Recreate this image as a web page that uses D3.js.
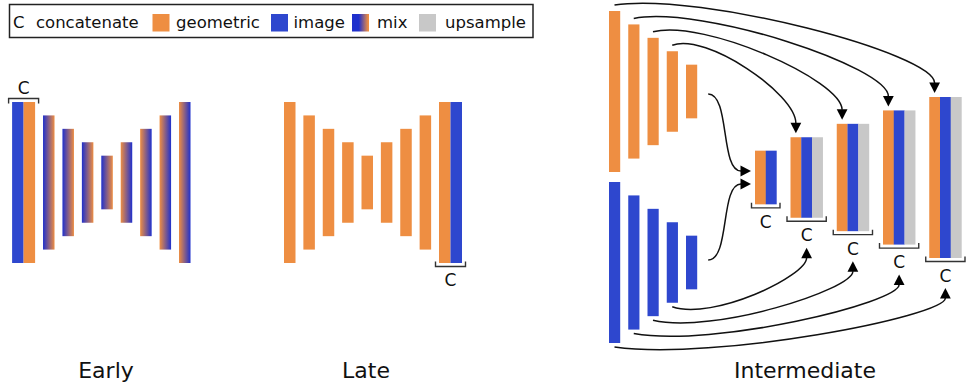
<!DOCTYPE html>
<html><head><meta charset="utf-8">
<script src="https://cdn.jsdelivr.net/npm/d3@7"></script>
<style>html,body{margin:0;padding:0;background:#fff;} svg{display:block;font-family:"DejaVu Sans",Verdana,sans-serif;}</style>
</head><body><svg id="c" width="968" height="385"></svg>
<script>
// ---------------- data ----------------
const legendKeys = ["C", "geo", "img", "mix", "up"];
const legendLabels = ["concatenate", "geometric", "image", "mix", "upsample"];
const panelTitles = ["Early", "Late", "Intermediate"];
const concatLabel = "C";
const earlySizes = [6, 5, 4, 3, 2, 3, 4, 5, 6];
const earlyFills = ["concat", "mixBO", "mixBO", "mixBO", "mixBO", "mixOB", "mixOB", "mixOB", "mixOB"];
const lateSizes = [6, 5, 4, 3, 2, 3, 4, 5, 6];
const lateFills = ["geo", "geo", "geo", "geo", "geo", "geo", "geo", "geo", "concat"];
const encoderSizes = [6, 5, 4, 3, 2];
const decoderSizes = [2, 3, 4, 5, 6];
const decoderParts = [["geo", "img"], ["geo", "img", "up"], ["geo", "img", "up"], ["geo", "img", "up"], ["geo", "img", "up"]];

// ---------------- styles ----------------
const COL = { geo: "#ee8e42", img: "#2e47ce", up: "#c8c8c8", blueG: "#1f30cc" };
const svg = d3.select("#c");
const defs = svg.append("defs");
function grad(id, c0, c1, s0 = 0, s1 = 1) {
  const g = defs.append("linearGradient").attr("id", id).attr("x1", 0).attr("x2", 1).attr("y1", 0).attr("y2", 0);
  g.append("stop").attr("offset", s0).attr("stop-color", c0);
  g.append("stop").attr("offset", s1).attr("stop-color", c1);
}
grad("gBO", COL.blueG, COL.geo);
grad("gOB", COL.geo, COL.blueG);
grad("gLeg", COL.blueG, COL.geo, 0.4, 0.95);
const fillOf = k => k === "mixBO" ? "url(#gBO)" : k === "mixOB" ? "url(#gOB)" : k === "mix" ? "url(#gLeg)" : COL[k];

const h = d3.scaleLinear().domain([0, 6]).range([0, 161]);

// ---------------- legend ----------------
const leg = svg.append("g");
leg.append("rect").attr("x", 9.5).attr("y", 4.5).attr("width", 523.5).attr("height", 33)
  .attr("fill", "#fff").attr("stroke", "#222").attr("stroke-width", 1.5);
const legSwX = [null, 152.5, 271, 352, 419];
const legTxX = [36, 176, 293.5, 377, 445];
leg.append("text").attr("x", 13).attr("y", 28.3).attr("font-size", 16.5).attr("fill", "#111").text(concatLabel);
legendKeys.forEach((k, i) => {
  if (legSwX[i] !== null) {
    leg.append("rect").attr("x", legSwX[i]).attr("y", 14).attr("width", 17).attr("height", 17.5).attr("fill", fillOf(k));
  }
  leg.append("text").attr("x", legTxX[i]).attr("y", 28.3).attr("font-size", 16.5).attr("fill", "#111").text(legendLabels[i]);
});

// ---------------- helpers ----------------
function bracket(g, x0, x1, y, dir) { // dir -1: ticks up, +1: ticks down
  g.append("path").attr("d", `M${x0},${y + dir * 5}V${y}H${x1}V${y + dir * 5}`)
    .attr("fill", "none").attr("stroke", "#333").attr("stroke-width", 1.4);
}
function cLabel(g, x, y) {
  g.append("text").attr("x", x).attr("y", y).attr("text-anchor", "middle").attr("font-size", 17).attr("fill", "#111").text(concatLabel);
}

// ---------------- Early ----------------
const early = svg.append("g");
const xE = d3.scaleLinear().domain([0, 8]).range([23.6, 179]);
const bw = 11.5, cyE = 182.5;
earlySizes.forEach((s, i) => {
  const y0 = cyE - h(s) / 2;
  if (earlyFills[i] === "concat") {
    early.append("rect").attr("x", xE(i) - bw).attr("y", y0).attr("width", bw).attr("height", h(s)).attr("fill", COL.img);
    early.append("rect").attr("x", xE(i)).attr("y", y0).attr("width", bw).attr("height", h(s)).attr("fill", COL.geo);
    bracket(early, xE(i) - bw - 3.5, xE(i) + bw + 3.5, y0 - 3.5, 1);
    cLabel(early, xE(i), y0 - 8);
  } else {
    early.append("rect").attr("x", xE(i)).attr("y", y0).attr("width", bw).attr("height", h(s)).attr("fill", fillOf(earlyFills[i]));
  }
});

// ---------------- Late ----------------
const late = svg.append("g");
const xL = d3.scaleLinear().domain([0, 8]).range([284, 439]);
lateSizes.forEach((s, i) => {
  const y0 = cyE - h(s) / 2;
  late.append("rect").attr("x", xL(i)).attr("y", y0).attr("width", bw).attr("height", h(s)).attr("fill", COL.geo);
  if (lateFills[i] === "concat") {
    late.append("rect").attr("x", xL(i) + bw).attr("y", y0).attr("width", bw).attr("height", h(s)).attr("fill", COL.img);
    bracket(late, xL(i) - 3.5, xL(i) + 2 * bw + 3.5, y0 + h(s) + 3.5, -1);
    cLabel(late, xL(i) + bw, y0 + h(s) + 22.5);
  }
});

// ---------------- Intermediate ----------------
const mid = svg.append("g");
const xEnc = d3.scaleLinear().domain([0, 4]).range([609, 686]);
const ew = 11.2, cyO = 91.5, cyB = 262.5, cyD = 177.5;
encoderSizes.forEach((s, i) => {
  mid.append("rect").attr("x", xEnc(i)).attr("y", cyO - h(s) / 2).attr("width", ew).attr("height", h(s)).attr("fill", COL.geo);
  mid.append("rect").attr("x", xEnc(i)).attr("y", cyB - h(s) / 2).attr("width", ew).attr("height", h(s)).attr("fill", COL.img);
});
const sub = 10.75, gap = 14;
const decLeft = [];
let cx = 755;
decoderParts.forEach(p => { decLeft.push(cx); cx += p.length * sub + gap; });
decoderSizes.forEach((s, j) => {
  const y0 = cyD - h(s) / 2;
  decoderParts[j].forEach((k, m) => {
    mid.append("rect").attr("x", decLeft[j] + m * sub).attr("y", y0).attr("width", sub + 0.2).attr("height", h(s)).attr("fill", COL[k]);
  });
  const w = decoderParts[j].length * sub;
  bracket(mid, decLeft[j] - 3.5, decLeft[j] + w + 3.5, y0 + h(s) + 3.5, -1);
  cLabel(mid, decLeft[j] + w / 2, y0 + h(s) + 23.5);
});

// arrows
const arrows = svg.append("g");
function arrow(P0, P1, P2, P3, tip) {
  const p = d3.path();
  p.moveTo(P0[0], P0[1]);
  p.bezierCurveTo(P1[0], P1[1], P2[0], P2[1], P3[0], P3[1]);
  arrows.append("path").attr("d", p.toString()).attr("fill", "none").attr("stroke", "#111").attr("stroke-width", 1.5);
  let dx = tip[0] - P3[0], dy = tip[1] - P3[1];
  const L = Math.hypot(dx, dy); dx /= L; dy /= L;
  const W = 5.4, bx = tip[0] - dx * 10.5, by = tip[1] - dy * 10.5;
  arrows.append("path").attr("d", `M${tip[0]},${tip[1]}L${bx - dy * W},${by + dx * W}L${bx + dy * W},${by - dx * W}Z`).attr("fill", "#000");
}
encoderSizes.forEach((s, i) => {
  const j = decoderSizes.indexOf(s);
  const ds = decoderSizes[j];
  if (i < 4) {
    // top skip: geometric encoder -> decoder (top)
    let S = [xEnc(i) + 5.5, cyO - h(s) / 2 - 6];
    let tip = [decLeft[j] + sub / 2, cyD - h(ds) / 2 - 4];
    let B = [tip[0], tip[1] - 10];
    let dx = B[0] - S[0], dy = B[1] - S[1];
    arrow(S, [S[0] + 0.27 * dx, S[1] - 13], [B[0], B[1] - 0.38 * dy], B, tip);
    // bottom skip: image encoder -> decoder (bottom)
    const w = decoderParts[j].length * sub;
    S = [xEnc(i) + 5.5, cyB + h(s) / 2 + 4];
    tip = [decLeft[j] + w / 2, cyD + h(ds) / 2 + 30];
    B = [tip[0], tip[1] + 10];
    dx = B[0] - S[0]; dy = S[1] - B[1];
    arrow(S, [S[0] + 0.3 * dx, S[1] + 14], [B[0], B[1] + 0.38 * dy], B, tip);
  } else {
    // bottleneck: both streams -> first decoder block (from left)
    [[cyO + 2.5, -6.5], [cyB - 2.5, 6.5]].forEach(([sy, off]) => {
      const S = [xEnc(i) + ew + 11, sy];
      const tip = [decLeft[j] - 4, cyD + off];
      const B = [tip[0] - 10, tip[1]];
      arrow(S, [S[0] + 22, S[1]], [B[0] - 21, B[1]], B, tip);
    });
  }
});

// ---------------- titles ----------------
const titleX = [106, 366, 805];
panelTitles.forEach((t, i) => {
  svg.append("text").attr("x", titleX[i]).attr("y", 378).attr("text-anchor", "middle").attr("font-size", 22).attr("fill", "#111").text(t);
});
</script></body></html>
